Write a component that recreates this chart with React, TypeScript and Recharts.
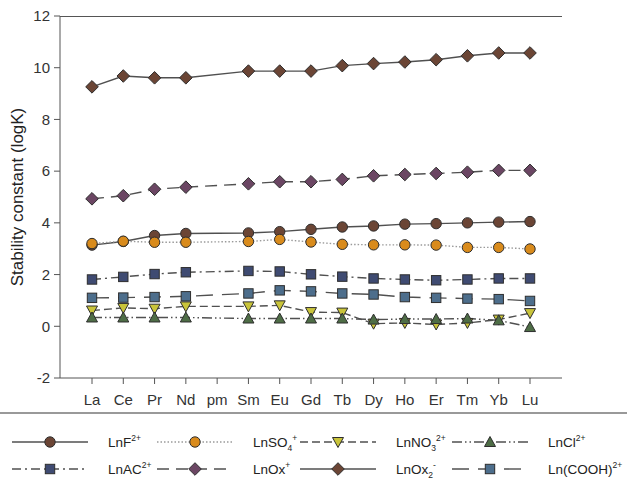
import { LineChart, Line, XAxis, YAxis } from "recharts";

const ELEMENTS = ["La", "Ce", "Pr", "Nd", "pm", "Sm", "Eu", "Gd", "Tb", "Dy", "Ho", "Er", "Tm", "Yb", "Lu"];

// logK values, pm has no data
const LN_F = [3.14, 3.28, 3.51, 3.59, null, 3.61, 3.66, 3.75, 3.84, 3.88, 3.95, 3.97, 4.0, 4.03, 4.05];
const LN_SO4 = [3.2, 3.29, 3.25, 3.25, null, 3.28, 3.36, 3.26, 3.17, 3.15, 3.15, 3.14, 3.05, 3.05, 2.99];
const LN_NO3 = [0.61, 0.71, 0.68, 0.77, null, 0.77, 0.81, 0.55, 0.53, 0.1, 0.13, 0.07, 0.13, 0.26, 0.51];
const LN_CL = [0.34, 0.34, 0.34, 0.34, null, 0.3, 0.3, 0.3, 0.3, 0.26, 0.28, 0.28, 0.3, 0.23, -0.03];
const LN_AC = [1.81, 1.91, 2.02, 2.09, null, 2.14, 2.12, 2.01, 1.92, 1.85, 1.81, 1.78, 1.81, 1.85, 1.85];
const LN_OX = [4.93, 5.05, 5.3, 5.38, null, 5.51, 5.59, 5.59, 5.68, 5.82, 5.87, 5.91, 5.96, 6.03, 6.03];
const LN_OX2 = [9.26, 9.68, 9.61, 9.61, null, 9.87, 9.87, 9.87, 10.08, 10.16, 10.22, 10.31, 10.46, 10.57, 10.57];
const LN_COOH = [1.1, 1.11, 1.13, 1.16, null, 1.27, 1.39, 1.35, 1.27, 1.23, 1.13, 1.1, 1.07, 1.05, 0.98];

const Y_TICKS = [-2, 0, 2, 4, 6, 8, 10, 12];

type Shape = "circle" | "square" | "diamond" | "triUp" | "triDown";
type Part = { t: string; k?: "sub" | "sup" };

const SERIES: {
  key: string;
  values: (number | null)[];
  label: Part[];
  fill: string;
  shape: Shape;
  stroke: string;
  dash?: string;
}[] = [
  { key: "f", values: LN_F, label: [{ t: "LnF" }, { t: "2+", k: "sup" }], fill: "#6b4535", shape: "circle", stroke: "#505050" },
  { key: "so4", values: LN_SO4, label: [{ t: "LnSO" }, { t: "4", k: "sub" }, { t: "+", k: "sup" }], fill: "#d98b1c", shape: "circle", stroke: "#9a9a9a", dash: "1.5 2" },
  { key: "no3", values: LN_NO3, label: [{ t: "LnNO" }, { t: "3", k: "sub" }, { t: "2+", k: "sup" }], fill: "#c9c43a", shape: "triDown", stroke: "#505050", dash: "8 4" },
  { key: "cl", values: LN_CL, label: [{ t: "LnCl" }, { t: "2+", k: "sup" }], fill: "#4e6d46", shape: "triUp", stroke: "#505050", dash: "10 3 1.5 3 1.5 3" },
  { key: "ac", values: LN_AC, label: [{ t: "LnAC" }, { t: "2+", k: "sup" }], fill: "#3f4b72", shape: "square", stroke: "#505050", dash: "9 4 2 4" },
  { key: "ox", values: LN_OX, label: [{ t: "LnOx" }, { t: "+", k: "sup" }], fill: "#6b4663", shape: "diamond", stroke: "#505050", dash: "12 7" },
  { key: "ox2", values: LN_OX2, label: [{ t: "LnOx" }, { t: "2", k: "sub" }, { t: "-", k: "sup" }], fill: "#6b4535", shape: "diamond", stroke: "#505050" },
  { key: "cooh", values: LN_COOH, label: [{ t: "Ln(COOH)" }, { t: "2+", k: "sup" }], fill: "#4d6e8c", shape: "square", stroke: "#505050", dash: "17 9" },
];

const rows = ELEMENTS.map((el, i) => {
  const r: Record<string, string | number | null> = { el };
  SERIES.forEach((s) => (r[s.key] = s.values[i]));
  return r;
});

const FONT = "'Liberation Sans', Arial, sans-serif";
const W = 627;
const H = 486;
const MARGIN = { top: 16, right: 65, bottom: 68, left: 0 };
const Y_AXIS_W = 60;

function Marker({ cx, cy, shape, fill }: { cx?: number; cy?: number; shape: Shape; fill: string }) {
  if (cx == null || cy == null || isNaN(cy)) return null;
  const common = { fill, stroke: "#2e2e2e", strokeWidth: 1 };
  switch (shape) {
    case "circle":
      return <circle cx={cx} cy={cy} r={5.2} {...common} />;
    case "square":
      return <rect x={cx - 4.7} y={cy - 4.7} width={9.4} height={9.4} {...common} />;
    case "diamond":
      return <polygon points={`${cx},${cy - 6.3} ${cx + 6.3},${cy} ${cx},${cy + 6.3} ${cx - 6.3},${cy}`} {...common} />;
    case "triUp":
      return <polygon points={`${cx},${cy - 5.5} ${cx + 5.5},${cy + 4.5} ${cx - 5.5},${cy + 4.5}`} {...common} />;
    case "triDown":
      return <polygon points={`${cx},${cy + 5.5} ${cx + 5.5},${cy - 4.5} ${cx - 5.5},${cy - 4.5}`} {...common} />;
  }
  return null;
}

function LabelText({ x, y, parts }: { x: number; y: number; parts: Part[] }) {
  let shift = 0;
  return (
    <text x={x} y={y} fontSize={13.5} fill="#222" fontFamily={FONT}>
      {parts.map((p, i) => {
        const target = p.k === "sup" ? -6 : p.k === "sub" ? 4 : 0;
        const dy = target - shift;
        shift = target;
        return (
          <tspan key={i} dy={dy} fontSize={p.k ? 8.5 : 13.5}>
            {p.t}
          </tspan>
        );
      })}
    </text>
  );
}

const LEGEND_COLS = [12, 157, 300, 452];
const LEGEND_ROWS = [442, 469];

function ChartOverlay() {
  return (
    <svg width={W} height={H} style={{ position: "absolute", left: 0, top: 0, pointerEvents: "none" }}>
      {/* top edge of the plot frame */}
      <line
        x1={MARGIN.left + Y_AXIS_W}
        x2={W - MARGIN.right}
        y1={MARGIN.top + 0.5}
        y2={MARGIN.top + 0.5}
        stroke="#555"
        strokeWidth={1}
      />
      <line x1={0} x2={W} y1={413} y2={413} stroke="#777" strokeWidth={1.6} />
      {SERIES.map((s, i) => {
        const x0 = LEGEND_COLS[i % 4];
        const y = LEGEND_ROWS[Math.floor(i / 4)];
        return (
          <g key={s.key}>
            <line x1={x0} x2={x0 + 76} y1={y} y2={y} stroke={s.stroke} strokeWidth={1.4} strokeDasharray={s.dash} />
            <Marker cx={x0 + 38} cy={y} shape={s.shape} fill={s.fill} />
            <LabelText x={x0 + 96} y={y + 4.5} parts={s.label} />
          </g>
        );
      })}
    </svg>
  );
}

export default function App() {
  return (
    <div style={{ position: "absolute", left: 0, top: 0, width: W, height: H, background: "#fff", fontFamily: FONT }}>
      <LineChart width={W} height={H} data={rows} margin={MARGIN}>
        <XAxis
          dataKey="el"
          padding={{ left: 32, right: 32 }}
          interval={0}
          tickSize={6}
          tickMargin={10}
          stroke="#555"
          tick={{ fontSize: 15, fill: "#333", fontFamily: FONT }}
          height={40}
        />
        <YAxis
          domain={[-2, 12]}
          ticks={Y_TICKS}
          width={Y_AXIS_W}
          tickSize={6}
          tickMargin={4}
          stroke="#555"
          allowDataOverflow
          tick={{ fontSize: 15, fill: "#333", fontFamily: FONT }}
          label={({ viewBox }: any) => {
            const cy = viewBox.y + viewBox.height / 2;
            return (
              <text x={17} y={cy} transform={`rotate(-90 17 ${cy})`} textAnchor="middle" dominantBaseline="central" fontSize={17} fill="#222" fontFamily={FONT}>
                Stability constant (logK)
              </text>
            );
          }}
        />
        <YAxis yAxisId="right" orientation="right" domain={[-2, 12]} tick={false} tickLine={false} stroke="#555" width={0} />
        {SERIES.map((s) => (
          <Line
            key={s.key}
            dataKey={s.key}
            type="linear"
            stroke={s.stroke}
            strokeWidth={1.4}
            strokeDasharray={s.dash}
            connectNulls
            isAnimationActive={false}
            activeDot={false}
            dot={(p: any) => <Marker key={`${s.key}-${p.index}`} cx={p.cx} cy={p.cy} shape={s.shape} fill={s.fill} />}
          />
        ))}
      </LineChart>
      <ChartOverlay />
    </div>
  );
}
